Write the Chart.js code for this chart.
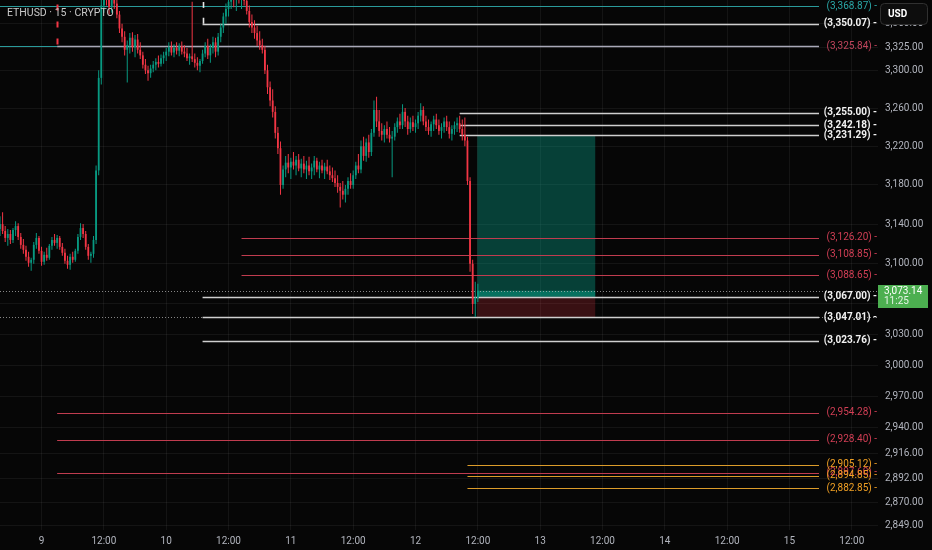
<!DOCTYPE html>
<html><head><meta charset="utf-8">
<script src="https://cdn.jsdelivr.net/npm/chart.js@4.4.1/dist/chart.umd.min.js"></script>
<style>html,body{margin:0;padding:0;background:#060606;}#wrap{width:932px;height:550px;position:relative;}</style>
</head><body><div id="wrap"><canvas id="c"></canvas></div>
<script>
// ---- data ----
const chartTitle = 'ETHUSD · 15 · CRYPTO';
const firstCandleHour = -8;      // hours relative to 9 Dec 00:00
const candleStepHours = 0.5;
const opens = [3135,3140,3133,3126,3130,3124,3134,3138,3127,3119,3114,3107,3101,3104,3119,3126,3113,3102,3109,3106,3118,3124,3121,3126,3117,3111,3103,3099,3107,3104,3113,3127,3136,3130,3117,3108,3110,3124,3195,3292,3370,3384,3378,3368,3382,3372,3360,3345,3336,3322,3327,3335,3325,3333,3322,3316,3306,3300,3297,3302,3306,3309,3307,3313,3316,3320,3325,3319,3324,3321,3326,3320,3318,3313,3315,3312,3308,3305,3310,3318,3326,3316,3324,3330,3320,3336,3346,3358,3366,3374,3385,3376,3388,3380,3390,3375,3364,3352,3346,3340,3332,3327,3322,3300,3282,3268,3256,3234,3218,3180,3196,3203,3198,3204,3200,3206,3197,3202,3196,3200,3194,3198,3205,3196,3200,3195,3199,3194,3190,3187,3182,3178,3174,3170,3176,3184,3180,3190,3200,3196,3220,3210,3224,3214,3234,3258,3246,3236,3232,3238,3232,3228,3230,3240,3246,3242,3256,3246,3238,3245,3240,3244,3252,3258,3246,3240,3236,3243,3248,3242,3236,3240,3246,3240,3233,3238,3242,3244,3238,3232,3226,3184,3100,3060,3066];
const highs = [3148,3152,3138,3135,3134,3136,3143,3141,3131,3125,3118,3112,3106,3122,3131,3128,3117,3112,3116,3120,3127,3130,3129,3128,3121,3115,3108,3110,3112,3115,3130,3141,3140,3133,3120,3112,3128,3200,3300,3378,3392,3398,3390,3388,3394,3380,3364,3350,3342,3332,3340,3341,3338,3339,3330,3320,3312,3305,3306,3310,3313,3316,3317,3320,3324,3330,3331,3328,3330,3329,3331,3327,3324,3318,3374,3318,3314,3312,3322,3330,3334,3328,3336,3335,3340,3350,3362,3372,3380,3392,3398,3394,3400,3396,3402,3382,3370,3360,3354,3348,3342,3334,3326,3306,3288,3280,3262,3240,3225,3200,3210,3212,3208,3214,3210,3212,3207,3210,3205,3209,3202,3210,3208,3204,3206,3203,3206,3200,3198,3195,3190,3182,3184,3180,3188,3192,3195,3204,3212,3226,3230,3228,3232,3238,3268,3272,3258,3244,3242,3246,3240,3236,3244,3250,3254,3264,3260,3252,3250,3252,3248,3256,3265,3262,3252,3248,3246,3252,3254,3248,3244,3250,3252,3246,3242,3246,3250,3252,3248,3250,3230,3188,3104,3082,3080];
const lows = [3128,3130,3122,3118,3120,3121,3128,3124,3115,3110,3103,3097,3093,3100,3115,3110,3098,3099,3103,3104,3114,3118,3115,3114,3108,3100,3095,3094,3101,3102,3110,3124,3126,3114,3104,3101,3106,3120,3190,3285,3362,3370,3360,3362,3366,3356,3340,3330,3316,3287,3318,3320,3314,3318,3312,3302,3296,3289,3292,3298,3300,3303,3304,3307,3310,3315,3316,3314,3317,3315,3317,3314,3310,3306,3309,3303,3300,3298,3307,3314,3312,3308,3318,3314,3316,3330,3340,3350,3358,3366,3368,3364,3372,3366,3370,3360,3346,3340,3334,3326,3322,3318,3296,3275,3262,3250,3228,3212,3170,3176,3188,3192,3186,3196,3190,3194,3188,3192,3186,3190,3186,3190,3193,3187,3192,3186,3191,3185,3183,3178,3172,3157,3165,3162,3170,3176,3176,3186,3192,3192,3205,3204,3208,3210,3230,3240,3230,3226,3224,3228,3224,3188,3226,3234,3238,3238,3240,3232,3234,3236,3234,3238,3246,3242,3236,3232,3230,3236,3238,3232,3228,3234,3236,3228,3226,3232,3235,3234,3226,3220,3180,3092,3050,3047.01,3062];
const closes = [3140,3133,3126,3130,3124,3134,3138,3127,3119,3114,3107,3101,3104,3119,3126,3113,3102,3109,3106,3118,3124,3121,3126,3117,3111,3103,3099,3107,3104,3113,3127,3136,3130,3117,3108,3110,3124,3195,3292,3370,3384,3378,3368,3382,3372,3360,3345,3336,3322,3327,3335,3325,3333,3322,3316,3306,3300,3297,3302,3306,3309,3307,3313,3316,3320,3325,3319,3324,3321,3326,3320,3318,3313,3315,3312,3308,3305,3310,3318,3326,3316,3324,3330,3320,3336,3346,3358,3366,3374,3385,3376,3388,3380,3390,3375,3364,3352,3346,3340,3332,3327,3322,3300,3282,3268,3256,3234,3218,3180,3196,3203,3198,3204,3200,3206,3197,3202,3196,3200,3194,3198,3205,3196,3200,3195,3199,3194,3190,3187,3182,3178,3174,3170,3176,3184,3180,3190,3200,3196,3220,3210,3224,3214,3234,3258,3246,3236,3232,3238,3232,3228,3230,3240,3246,3242,3256,3246,3238,3245,3240,3244,3252,3258,3246,3240,3236,3243,3248,3242,3236,3240,3246,3240,3233,3238,3242,3244,3238,3232,3226,3184,3100,3060,3066,3073.14];

const priceTicks = [3350,3325,3300,3260,3220,3180,3140,3100,3060,3030,3000,2970,2940,2916,2892,2870,2849];
const timeTicks = [0,12,24,36,48,60,72,84,96,108,120,132,144,156];
const timeLabels = ['9','12:00','10','12:00','11','12:00','12','12:00','13','12:00','14','12:00','15','12:00'];

// horizontal drawings
const levelPrices = [3368.87,3350.07,3325.84,3325.84,3255.00,3242.18,3231.29,3126.20,3108.85,3088.65,3067.00,3047.01,3023.76,2954.28,2928.40,2897.60,2905.12,2894.85,2882.85];
const levelStarts = [-8,31,-8,3,80.5,80.5,80.5,38.5,38.5,38.5,31,31,31,3,3,3,82,82,82];
const levelKinds  = ['teal','white','tealseg','grey','white','white','white','red','red','red','white','white','white','red','red','red','orange','orange','orange'];

const lastPrice = 3073.14;
const countdown = '11:25';
const positionStart = 83.9, positionEnd = 106.6;
const positionEntry = 3067.00, positionTarget = 3231.29, positionStop = 3047.01;
const redMarkHour = 3, redMarkTop = 3371, redMarkBottom = 3327;
const whiteMarkHour = 31.1;
const whiteMarkSegments = [[3373.7,3367.3],[3356.6,3350.07]];

// ---- styles ----
const BG = '#060606';
const UP = '#089981', DOWN = '#f23645';
const GRID = 'rgba(255,255,255,0.06)';
const AXIS_TXT = '#b2b5be';
const STY = {
  teal:   {line:'#2a9a9a', label:'#2aa7a7', bold:false, lw:1.2},
  tealseg:{line:'#2a9a9a', label:null, bold:false, lw:1.2},
  white:  {line:'#cfcfcf', label:'#f2f2f2', bold:true, lw:1.4},
  grey:   {line:'#a9a9b8', label:'#c0455c', bold:false, lw:1.4},
  red:    {line:'#c03c4f', label:'#d23f55', bold:false, lw:1.2},
  orange: {line:'#dc9c2a', label:'#f0a024', bold:false, lw:1.2}
};
const LINE_END_X = 819, LABEL_RIGHT_X = 877;

Chart.defaults.font.family = 'Roboto, "Liberation Sans", sans-serif';

const candleHours = opens.map((_, i) => firstCandleHour + i * candleStepHours);
const candleColor = c => closes[c.dataIndex] >= opens[c.dataIndex] ? UP : DOWN;
const fmt = v => v.toLocaleString('en-US', {minimumFractionDigits:2, maximumFractionDigits:2});

const overlay = {
  id: 'overlay',
  beforeDraw(chart) {
    const ctx = chart.ctx;
    ctx.save(); ctx.fillStyle = BG; ctx.fillRect(0, 0, chart.width, chart.height); ctx.restore();
  },
  beforeDatasetsDraw(chart) {
    const {ctx, chartArea: a, scales: {x, y}} = chart;
    ctx.save();
    ctx.beginPath(); ctx.rect(a.left, a.top, a.right - a.left, a.bottom - a.top); ctx.clip();
    // position box
    const x0 = x.getPixelForValue(positionStart), x1 = x.getPixelForValue(positionEnd);
    const yT = y.getPixelForValue(positionTarget), yE = y.getPixelForValue(positionEntry);
    const yS = y.getPixelForValue(positionStop), yL = y.getPixelForValue(lastPrice);
    ctx.fillStyle = 'rgba(8,153,129,0.40)'; ctx.fillRect(x0, yT, x1 - x0, yE - yT);
    ctx.fillStyle = 'rgba(8,153,129,0.55)'; ctx.fillRect(x0, yL, x1 - x0, yE - yL);
    ctx.fillStyle = 'rgba(242,54,69,0.22)'; ctx.fillRect(x0, yE, x1 - x0, yS - yE);
    // dotted lines (last price, low)
    ctx.setLineDash([1, 2]); ctx.lineWidth = 1; ctx.strokeStyle = 'rgba(190,190,190,0.7)';
    [lastPrice, positionStop].forEach(p => {
      const py = Math.round(y.getPixelForValue(p)) + 0.5;
      ctx.beginPath(); ctx.moveTo(a.left, py); ctx.lineTo(a.right, py); ctx.stroke();
    });
    ctx.setLineDash([]);
    // horizontal levels
    levelPrices.forEach((p, i) => {
      const s = STY[levelKinds[i]];
      const py = Math.round(y.getPixelForValue(p)) + 0.5;
      const xs = x.getPixelForValue(levelStarts[i]);
      const xe = levelKinds[i] === 'tealseg' ? x.getPixelForValue(redMarkHour) : LINE_END_X;
      ctx.strokeStyle = s.line; ctx.lineWidth = s.lw;
      ctx.beginPath(); ctx.moveTo(Math.max(a.left, xs), py); ctx.lineTo(xe, py); ctx.stroke();
    });
    // red dashed vertical mark
    const rx = Math.round(x.getPixelForValue(redMarkHour)) + 0.5;
    ctx.strokeStyle = '#f23645'; ctx.lineWidth = 2; ctx.setLineDash([6, 11]);
    ctx.beginPath(); ctx.moveTo(rx, y.getPixelForValue(redMarkTop)); ctx.lineTo(rx, y.getPixelForValue(redMarkBottom)); ctx.stroke();
    ctx.setLineDash([]);
    // white marks
    const wx = Math.round(x.getPixelForValue(whiteMarkHour)) + 0.5;
    ctx.strokeStyle = '#e6e6e6'; ctx.lineWidth = 1.6;
    whiteMarkSegments.forEach(([p1, p2]) => {
      ctx.beginPath(); ctx.moveTo(wx, y.getPixelForValue(p1)); ctx.lineTo(wx, y.getPixelForValue(p2)); ctx.stroke();
    });
    ctx.restore();
  },
  afterDraw(chart) {
    const {ctx, scales: {y}} = chart;
    ctx.save();
    ctx.textBaseline = 'middle';
    // level labels
    ctx.textAlign = 'right';
    levelPrices.forEach((p, i) => {
      const s = STY[levelKinds[i]];
      if (!s.label) return;
      const py = y.getPixelForValue(p);
      ctx.font = (s.bold ? 'bold ' : '') + '10px Roboto, "Liberation Sans", sans-serif';
      ctx.fillStyle = s.label;
      ctx.fillText('(' + fmt(p) + ') -', LABEL_RIGHT_X, py);
    });
    // title
    ctx.textAlign = 'left';
    ctx.font = '10.5px Roboto, "Liberation Sans", sans-serif';
    ctx.fillStyle = '#c9c9c9';
    ctx.fillText(chartTitle, 7, 13);
    // USD button
    ctx.fillStyle = '#0d0d0d'; ctx.strokeStyle = '#303030'; ctx.lineWidth = 1;
    ctx.beginPath(); ctx.roundRect(880.5, 3.5, 47, 21, 4); ctx.fill(); ctx.stroke();
    ctx.fillStyle = '#ffffff'; ctx.font = 'bold 10px Roboto, "Liberation Sans", sans-serif';
    ctx.fillText('USD', 888, 14.5);
    // last price tag
    const ly = y.getPixelForValue(lastPrice);
    ctx.fillStyle = '#4caf50';
    ctx.fillRect(878, Math.round(ly) - 6, 50, 23);
    ctx.fillStyle = '#ffffff'; ctx.font = '10px Roboto, "Liberation Sans", sans-serif';
    ctx.fillText(fmt(lastPrice), 884, ly + 1);
    ctx.fillStyle = 'rgba(255,255,255,0.85)';
    ctx.fillText(countdown, 884, ly + 11);
    ctx.restore();
  }
};

new Chart(document.getElementById('c'), {
  type: 'bar',
  data: {
    datasets: [
      {
        label: 'wick',
        data: candleHours.map((t, i) => ({x: t, y: [lows[i], highs[i]]})),
        backgroundColor: candleColor, borderWidth: 0, barThickness: 1, grouped: false, inflateAmount: 0, order: 2
      },
      {
        label: 'body',
        data: candleHours.map((t, i) => ({x: t, y: [opens[i], closes[i]]})),
        backgroundColor: candleColor, borderWidth: 0, barThickness: 1.8, grouped: false, minBarLength: 1, inflateAmount: 0, order: 1
      }
    ]
  },
  options: {
    responsive: true, maintainAspectRatio: false, animation: false,
    layout: {padding: 0},
    plugins: {legend: {display: false}, tooltip: {enabled: false}},
    scales: {
      x: {
        type: 'linear', min: -8, max: 161.04, offset: false,
        grid: {color: GRID, drawTicks: false, offset: false},
        border: {display: false},
        ticks: {
          autoSkip: false, maxRotation: 0, padding: 5, color: AXIS_TXT, font: {size: 10},
          callback: v => { const k = timeTicks.indexOf(v); return k >= 0 ? timeLabels[k] : ''; }
        },
        afterBuildTicks: s => { s.ticks = timeTicks.map(v => ({value: v})); },
        afterFit: s => { s.height = 20; s.paddingLeft = 0; s.paddingRight = 0; }
      },
      y: {
        type: 'logarithmic', position: 'right', min: 2844.4, max: 3375.9,
        grid: {color: GRID, drawTicks: false},
        border: {display: false},
        ticks: {autoSkip: false, padding: 7, color: AXIS_TXT, font: {size: 10}, callback: v => fmt(v)},
        afterBuildTicks: s => { s.ticks = priceTicks.map(v => ({value: v})); },
        afterFit: s => { s.width = 54; s.paddingTop = 0; s.paddingBottom = 0; }
      }
    }
  },
  plugins: [overlay]
});
</script>
</body></html>
